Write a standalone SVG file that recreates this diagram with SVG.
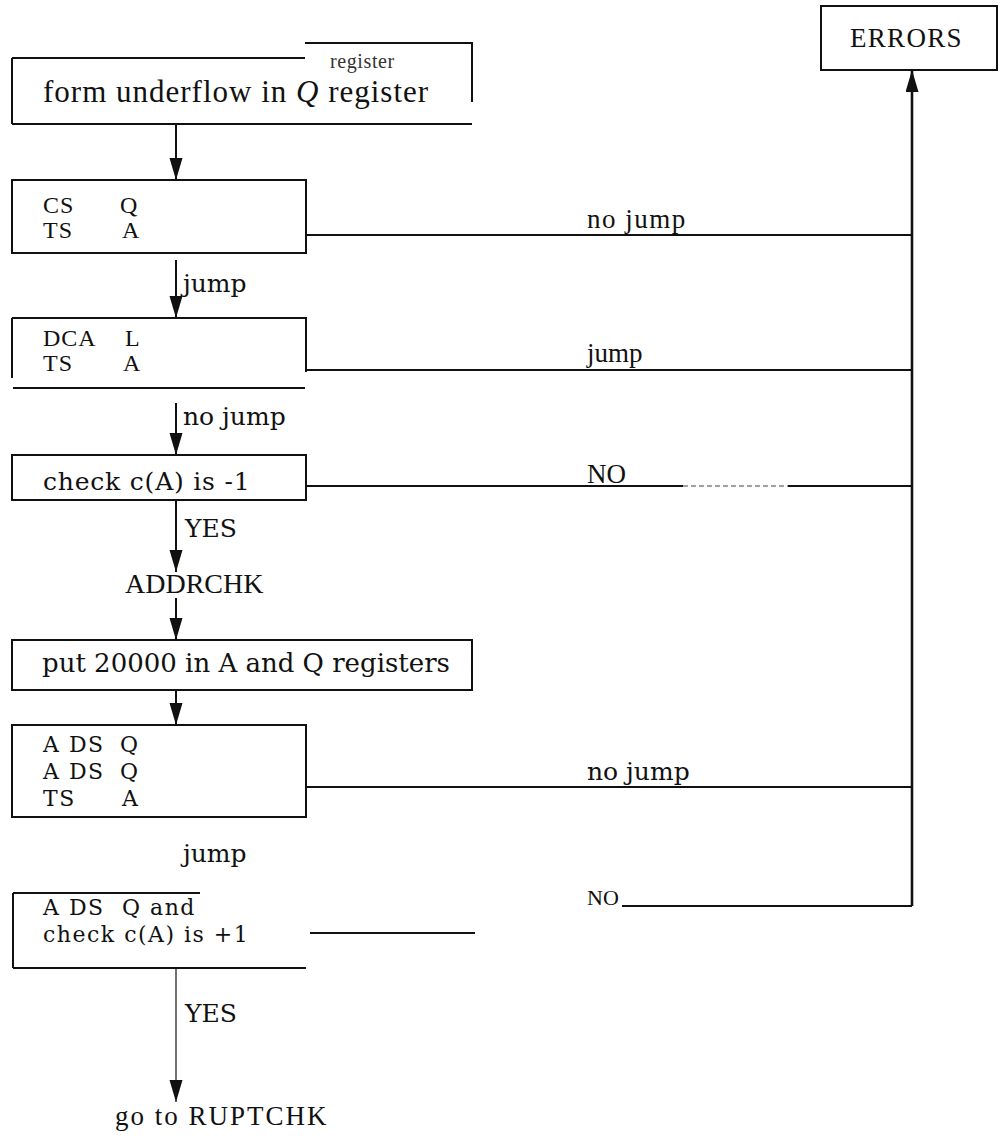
<svg xmlns="http://www.w3.org/2000/svg" width="999" height="1137" viewBox="0 0 999 1137">
<style>
  .bg{fill:#fff}
  .box{fill:none;stroke:#111;stroke-width:2}
  .ln{fill:none;stroke:#111;stroke-width:2}
  .thin{fill:none;stroke:#111;stroke-width:1.2}
  .dash{fill:none;stroke:#444;stroke-width:1.2;stroke-dasharray:5 3}
  .vt{fill:none;stroke:#111;stroke-width:2.6}
  .tm{font-family:"Liberation Serif","Times New Roman",serif;font-size:27px;fill:#111}
  .tw{font-family:"DejaVu Serif",serif;font-size:25px;fill:#111}
  .code{font-family:"Liberation Serif","Times New Roman",serif;font-size:24px;fill:#111;letter-spacing:1px}
  .tw2{font-family:"DejaVu Serif",serif;font-size:22px;fill:#111;letter-spacing:1.5px}
</style>
<defs>
  <marker id="ah" markerUnits="userSpaceOnUse" markerWidth="22" markerHeight="14" refX="22" refY="6.5" orient="auto">
    <path d="M0,0 L22,6.5 L0,13 z" fill="#111"/>
  </marker>
</defs>
<rect class="bg" x="0" y="0" width="999" height="1137"/>

<g id="errors">
  <rect class="box" x="821" y="6" width="176" height="64"/>
  <text class="tm" x="850" y="47" style="letter-spacing:1.3px">ERRORS</text>
</g>

<g id="underflow">
  <path class="box" d="M12,58 H305 M305,43 H472 V102 M12,58 V124 M12,124 H472"/>
  <text class="tm" x="330" y="68" style="font-size:20px;letter-spacing:0.6px;fill:#333">register</text>
  <text class="tm" x="43" y="102" style="font-size:31px;letter-spacing:1px">form underflow in <tspan font-style="italic">Q</tspan> register</text>
</g>

<g id="cs">
  <rect class="box" x="12" y="180" width="294" height="73"/>
  <text class="code" x="43" y="213">CS</text>
  <text class="code" x="120" y="213">Q</text>
  <text class="code" x="43" y="238">TS</text>
  <text class="code" x="122" y="238">A</text>
</g>

<g id="dca">
  <path class="box" d="M12,318 H306 V372 M12,318 V378 M13,388 H305"/>
  <text class="code" x="43" y="346">DCA</text>
  <text class="code" x="125" y="346">L</text>
  <text class="code" x="43" y="371">TS</text>
  <text class="code" x="123" y="371">A</text>
</g>

<g id="check1">
  <rect class="box" x="12" y="455" width="294" height="45"/>
  <text class="tw" x="43" y="490" style="letter-spacing:0.8px">check c(A) is -1</text>
</g>

<g id="addrchk">
  <text class="tm" x="125" y="593" style="font-size:28px">ADDRCHK</text>
</g>

<g id="put">
  <rect class="box" x="12" y="640" width="460" height="50"/>
  <text class="tw" x="42" y="672" style="font-size:26px">put 20000 in A and Q registers</text>
</g>

<g id="ads">
  <rect class="box" x="12" y="725" width="294" height="92"/>
  <text class="tw2" x="43" y="752">A DS</text>
  <text class="tw2" x="120" y="752">Q</text>
  <text class="tw2" x="43" y="779">A DS</text>
  <text class="tw2" x="120" y="779">Q</text>
  <text class="tw2" x="43" y="806">TS</text>
  <text class="tw2" x="122" y="806">A</text>
</g>

<g id="ads-check">
  <path class="box" d="M13,893 H200 M13,893 V968 M13,968 H306"/>
  <text class="tw2" x="43" y="915">A DS</text>
  <text class="tw2" x="122" y="915">Q and</text>
  <text class="tw2" x="43" y="942">check c(A) is +1</text>
</g>

<g id="ruptchk">
  <text class="tm" x="115" y="1125" style="letter-spacing:2px">go to RUPTCHK</text>
</g>

<g id="connectors">
  <line class="ln" x1="176" y1="124" x2="176" y2="180" marker-end="url(#ah)"/>
  <line class="ln" x1="176" y1="260" x2="176" y2="318" marker-end="url(#ah)"/>
  <text class="tw" x="183" y="292">jump</text>
  <line class="ln" x1="176" y1="403" x2="176" y2="455" marker-end="url(#ah)"/>
  <text class="tw" x="183" y="425">no jump</text>
  <line class="ln" x1="176" y1="500" x2="176" y2="572" marker-end="url(#ah)"/>
  <text class="tw" x="185" y="537">YES</text>
  <line class="ln" x1="176" y1="598" x2="176" y2="640" marker-end="url(#ah)"/>
  <line class="ln" x1="176" y1="690" x2="176" y2="725" marker-end="url(#ah)"/>
  <text class="tw" x="183" y="862">jump</text>
  <line class="thin" x1="176" y1="968" x2="176" y2="1102" marker-end="url(#ah)"/>
  <text class="tw" x="185" y="1022">YES</text>

  <line class="ln" x1="306" y1="235" x2="912" y2="235"/>
  <text class="tm" x="587" y="228" style="letter-spacing:1.5px">no jump</text>
  <line class="ln" x1="306" y1="370" x2="912" y2="370"/>
  <text class="tm" x="587" y="362">jump</text>
  <path class="ln" d="M306,486 H683 M788,486 H912"/>
  <line class="dash" x1="683" y1="486" x2="788" y2="486"/>
  <text class="tm" x="587" y="483">NO</text>
  <line class="ln" x1="306" y1="787" x2="912" y2="787"/>
  <text class="tw" x="587" y="780">no jump</text>
  <line class="ln" x1="310" y1="933" x2="475" y2="933"/>
  <text class="tm" x="587" y="905" style="font-size:22px">NO</text>
  <line class="ln" x1="622" y1="906" x2="912" y2="906"/>
  <line class="vt" x1="912" y1="906" x2="912" y2="70" marker-end="url(#ah)"/>
</g>
</svg>
